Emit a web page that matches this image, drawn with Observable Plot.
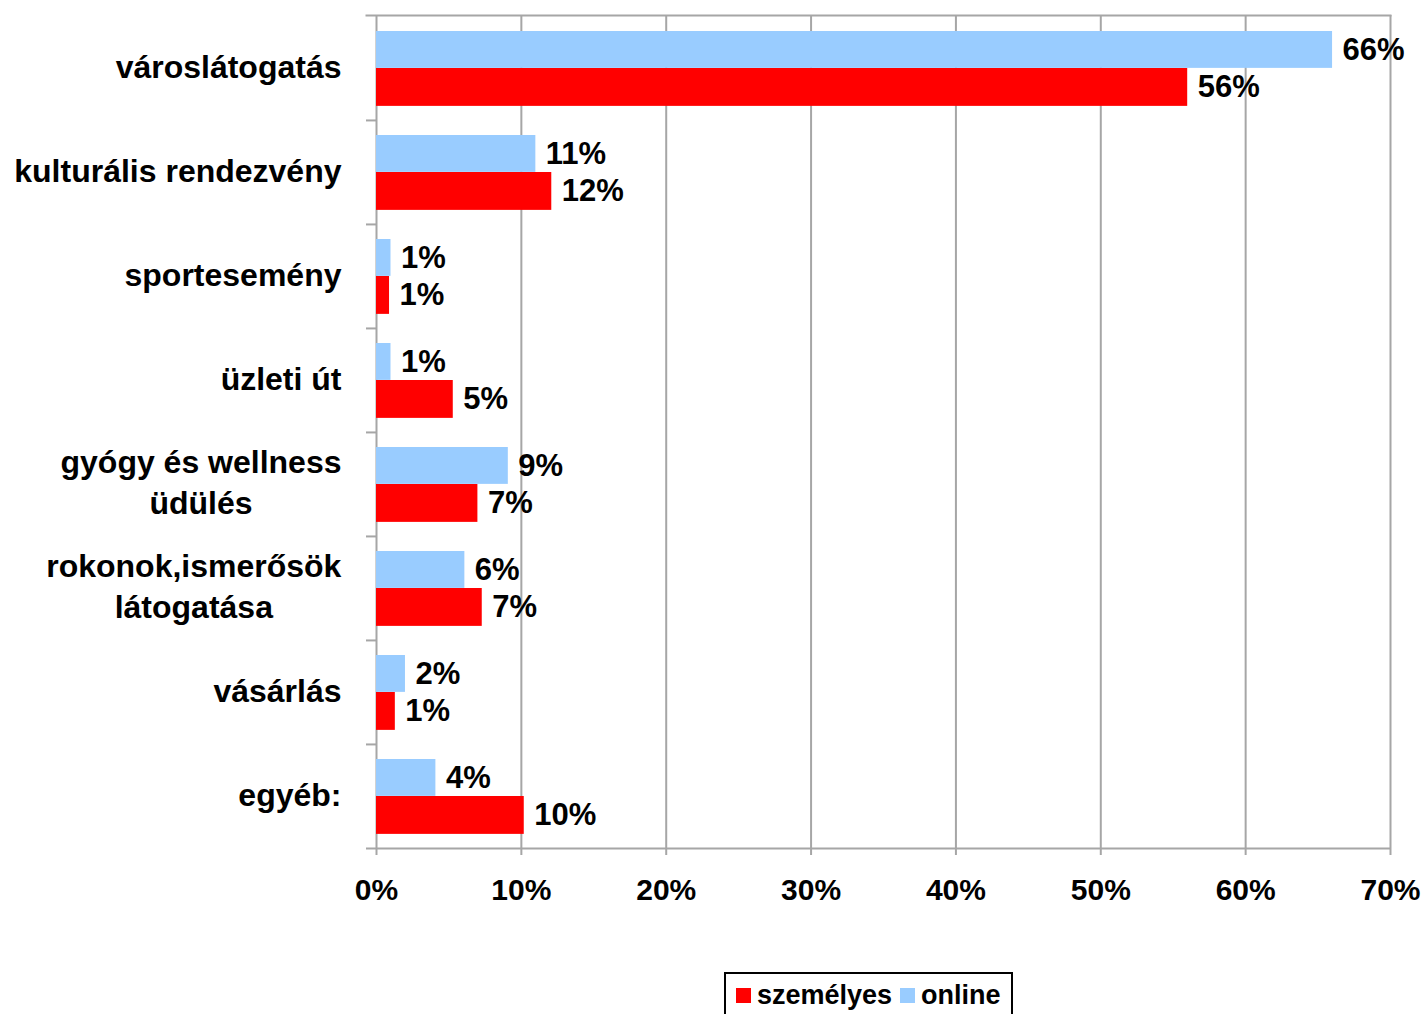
<!DOCTYPE html>
<html><head><meta charset="utf-8">
<script src="https://cdn.jsdelivr.net/npm/d3@7"></script>
<script src="https://cdn.jsdelivr.net/npm/@observablehq/plot@0.6"></script>
<style>
html,body{margin:0;padding:0;background:#fff;}
body{font-family:"Liberation Sans",Arial,sans-serif;width:1423px;height:1014px;position:relative;overflow:hidden;}
#legend{position:absolute;left:724px;top:972px;border:2px solid #000;padding:8px 10px 8px 10px;display:flex;align-items:center;font-weight:bold;font-size:27px;line-height:27px;background:#fff;white-space:nowrap;}
#legend .item{display:flex;align-items:center;margin-right:8px;}
#legend .item:last-child{margin-right:0;}
#legend .sw{width:15px;height:15px;margin-right:6px;display:inline-block;}
</style></head>
<body><div id="chart"></div><div id="legend"></div>
<script>
const categories = ["városlátogatás","kulturális rendezvény","sportesemény","üzleti út","gyógy és wellness\nüdülés","rokonok,ismerősök\nlátogatása","vásárlás","egyéb:"];
const onlineValues = [66, 11, 1.0, 1.0, 9.1, 6.1, 2.0, 4.1];
const szemelyesValues = [56, 12.1, 0.9, 5.3, 7.0, 7.3, 1.3, 10.2];
const onlineLabels = ["66%","11%","1%","1%","9%","6%","2%","4%"];
const szemelyesLabels = ["56%","12%","1%","5%","7%","7%","1%","10%"];
const xTicks = [0,10,20,30,40,50,60,70];
const seriesNames = ["személyes","online"];
const seriesColors = ["#ff0000","#99ccff"];

const W = 1423, H = 962, mL = 376, mR = 33, mT = 15, mB = 114;
const step = (H - mT - mB) / categories.length;
const plotW = W - mL - mR;
const grid = "#a6a6a6";

const online = categories.map((c,i)=>({cat:c, value:onlineValues[i], label:onlineLabels[i]}));
const szem = categories.map((c,i)=>({cat:c, value:szemelyesValues[i], label:szemelyesLabels[i]}));

const chart = Plot.plot({
  width: W, height: H, marginLeft: mL, marginRight: mR, marginTop: mT, marginBottom: mB,
  style: {fontFamily: "'Liberation Sans', Arial, sans-serif", fontWeight: "bold", fontSize: "30px", color: "#000", background: "#fff", overflow: "visible"},
  x: {domain: [0, 70]},
  y: {domain: categories, padding: 0},
  marks: [
    Plot.gridX(xTicks, {stroke: grid, strokeOpacity: 1, strokeWidth: 2}),
    Plot.frame({anchor: "top", insetLeft: -10, stroke: grid, strokeWidth: 2}),
    Plot.tickY(categories.slice(1), {y: d => d, dy: -step/2, insetLeft: -10, insetRight: plotW, stroke: grid, strokeWidth: 2}),
    Plot.barX(online, {x: "value", y: "cat", fill: seriesColors[1], insetTop: 15, insetBottom: step - 52}),
    Plot.barX(szem, {x: "value", y: "cat", fill: seriesColors[0], insetTop: 52, insetBottom: step - 90}),
    Plot.text(online, {x: "value", y: "cat", text: "label", dx: 10, dy: -18.5, textAnchor: "start", fill: "#000", fontSize: 31, fontWeight: "bold"}),
    Plot.text(szem, {x: "value", y: "cat", text: "label", dx: 10, dy: 19, textAnchor: "start", fill: "#000", fontSize: 31, fontWeight: "bold"}),
    Plot.axisX({ticks: xTicks, tickFormat: d => d + "%", tickSize: 7, tickPadding: 23, stroke: grid, strokeWidth: 2, fill: "#000", fontSize: 30, fontWeight: "bold", label: null}),
    Plot.ruleY([0], {y: () => categories[categories.length-1], dy: step/2, x1: 0, x2: 70, insetLeft: -10, stroke: grid, strokeWidth: 2}),
    Plot.axisY({tickSize: 0, tickPadding: 35, dy: -4, fill: "#000", fontSize: 32, fontWeight: "bold", lineHeight: 1.29, label: null})
  ]
});
document.getElementById("chart").appendChild(chart);

// center multi-line category labels like the original
chart.querySelectorAll('[aria-label="y-axis tick label"] text').forEach(t => {
  const spans = t.querySelectorAll("tspan");
  if (spans.length > 1) {
    const w = t.getBBox().width;
    t.setAttribute("text-anchor", "middle");
    spans.forEach(s => s.setAttribute("x", -w/2));
  }
});

const legend = document.getElementById("legend");
seriesNames.forEach((n,i) => {
  const it = document.createElement("span"); it.className = "item";
  const sw = document.createElement("span"); sw.className = "sw"; sw.style.background = seriesColors[i];
  it.appendChild(sw); it.appendChild(document.createTextNode(n));
  legend.appendChild(it);
});
</script>
</body></html>
